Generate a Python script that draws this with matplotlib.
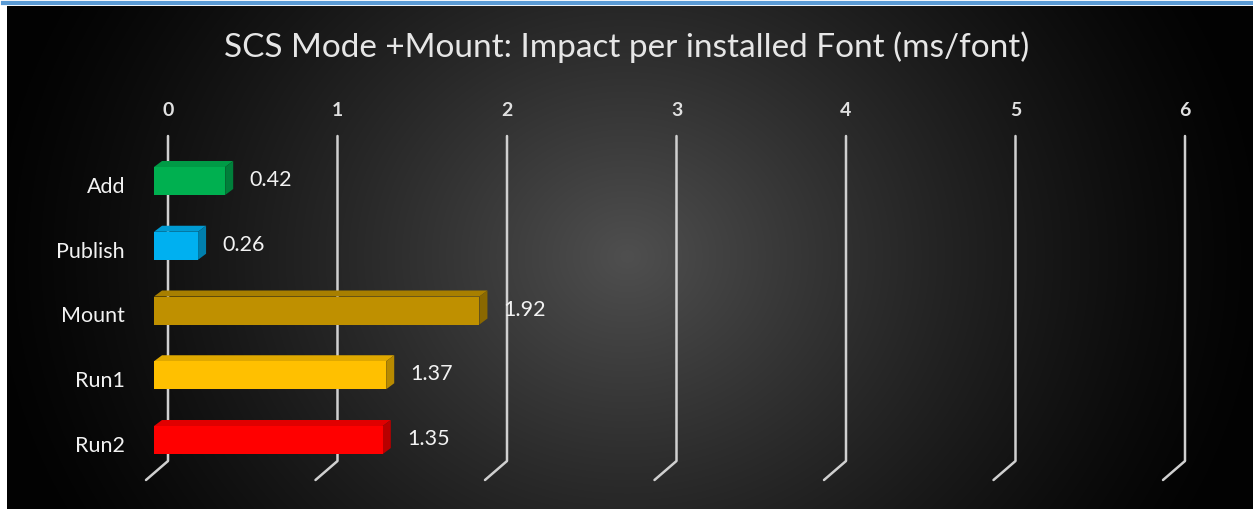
import numpy as np
import matplotlib.pyplot as plt
import matplotlib.colors as mc
from matplotlib.patches import Polygon, Rectangle

# Data
categories = ["Add", "Publish", "Mount", "Run1", "Run2"]
values = [0.42, 0.26, 1.92, 1.37, 1.35]
bar_colors = ["#00B050", "#00B0F0", "#BF9000", "#FFC000", "#FF0000"]
ticks = [0, 1, 2, 3, 4, 5, 6]
title = "SCS Mode +Mount: Impact per installed Font (ms/font)"

W, H, DPI = 1253, 510, 100
fig = plt.figure(figsize=(W / DPI, H / DPI), dpi=DPI)
fig.patch.set_facecolor("white")

# Dark chart area with a radial gradient
bg = fig.add_axes([7 / W, 0, (W - 7) / W, (H - 7) / H])
bg.set_axis_off()
yy, xx = np.mgrid[0:H - 7, 0:W - 7]
cx, cy = 620, 250
d = np.sqrt(((xx - cx) / 640.0) ** 2 + ((yy - cy) / 560.0) ** 2)
v = 0.30 * np.clip(1 - d, 0, 1) ** 1.25 + 0.01
img = np.dstack([v, v, v])
bg.imshow(img, aspect="auto", extent=[0, 1, 0, 1], interpolation="bilinear")
bg.set_xlim(0, 1)
bg.set_ylim(0, 1)

# Blue rule along the top
fig.add_artist(plt.Line2D([3 / W, 1], [1 - 4 / H, 1 - 4 / H],
                          color="#5B9BD5", lw=3, transform=fig.transFigure))

# Main axes: x in value units, y in category index
ax = fig.add_axes([0, 0, 1, 1])
ax.set_axis_off()
ax.patch.set_alpha(0)
px_per_unit = 169.5
x0_px = 154.0
y0_px, dy_px = 182.0, 64.75
ax.set_xlim(-x0_px / px_per_unit, (W - x0_px) / px_per_unit)
ax.set_ylim((H - y0_px) / dy_px, -y0_px / dy_px)


def px_x(p):
    return p / px_per_unit


def px_y(p):
    return p / dy_px


# Back-wall gridlines with floor feet
wall_dx = px_x(14)
top_y = px_y(137 - y0_px)
bot_y = px_y(462 - y0_px)
foot_dx, foot_dy = px_x(-22), px_y(19)
for t in ticks:
    gx = t + wall_dx
    ax.plot([gx, gx, gx + foot_dx], [top_y, bot_y, bot_y + foot_dy],
            color="#d0d0d0", lw=1.8, solid_capstyle="round", zorder=2)
    ax.text(gx, px_y(111 - y0_px), str(t), color="#e0e0e0", fontsize=14,
            ha="center", va="center", fontfamily="Lato", fontweight="bold")

# 3D-style bars
bh = px_y(28)
ddx, ddy = px_x(8), px_y(-6)


def shade(c, f):
    r, g, b = mc.to_rgb(c)
    return (r * f, g * f, b * f)


for i, (cat, val, col) in enumerate(zip(categories, values, bar_colors)):
    y_top = i - bh / 2
    y_bot = i + bh / 2
    # top face
    ax.add_patch(Polygon([(0, y_top), (val, y_top), (val + ddx, y_top + ddy),
                          (ddx, y_top + ddy)], closed=True,
                         facecolor=shade(col, 0.88), edgecolor="none", zorder=3))
    # side face
    ax.add_patch(Polygon([(val, y_top), (val + ddx, y_top + ddy),
                          (val + ddx, y_bot + ddy), (val, y_bot)], closed=True,
                         facecolor=shade(col, 0.72), edgecolor="none", zorder=3))
    # front face
    ax.add_patch(Rectangle((0, y_top), val, bh, facecolor=col,
                           edgecolor="none", zorder=4))
    ax.annotate(f"{val:.2f}", (val, i), xytext=(24, 2), textcoords="offset pixels",
                ha="left", va="center", color="#f2f2f2", fontsize=15.5,
                fontfamily="Lato", zorder=5)
    ax.text(px_x(125 - x0_px), i + px_y(5), cat, ha="right", va="center",
            color="#f2f2f2", fontsize=15.5, fontfamily="Lato")

fig.text(627 / W, 1 - 47 / H, title, ha="center", va="center",
         color="#e6e6e6", fontsize=24, fontfamily="Lato")

fig.savefig("out.png", dpi=DPI, facecolor=fig.get_facecolor())
